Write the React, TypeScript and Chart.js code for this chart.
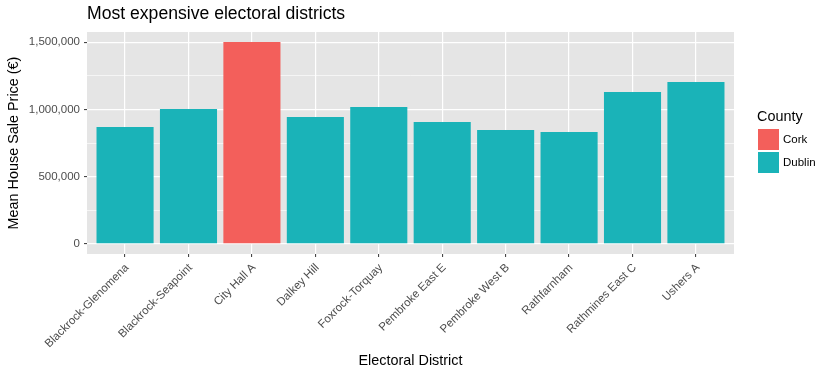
import React, { useEffect, useRef } from "react";
import { Chart, registerables } from "chart.js";

Chart.register(...registerables);

const districts = [
  "Blackrock-Glenomena",
  "Blackrock-Seapoint",
  "City Hall A",
  "Dalkey Hill",
  "Foxrock-Torquay",
  "Pembroke East E",
  "Pembroke West B",
  "Rathfarnham",
  "Rathmines East C",
  "Ushers A",
];
const districtCounty = ["Dublin", "Dublin", "Cork", "Dublin", "Dublin", "Dublin", "Dublin", "Dublin", "Dublin", "Dublin"];
const meanPrices = [869000, 1002000, 1500000, 943000, 1017000, 906000, 847000, 832000, 1129000, 1203000];
const counties = ["Cork", "Dublin"];
const countyColors = ["#F35F5B", "#1AB3B8"];
const yMajorTicks = [0, 500000, 1000000, 1500000];
const yMinorTicks = [250000, 750000, 1250000];

const FONT = "'Liberation Sans', Arial, Helvetica, sans-serif";

const panelBg = {
  id: "panelBg",
  beforeDraw(chart: any) {
    const { ctx, chartArea } = chart;
    ctx.save();
    ctx.fillStyle = "#E5E5E5";
    ctx.fillRect(chartArea.left, chartArea.top, chartArea.right - chartArea.left, chartArea.bottom - chartArea.top);
    ctx.restore();
  },
};

const ggLegend = {
  id: "ggLegend",
  afterDraw(chart: any) {
    const { ctx, chartArea } = chart;
    const x0 = chartArea.right + 24;
    const yTitle = 117;
    ctx.save();
    ctx.fillStyle = "#000000";
    ctx.font = `14.4px ${FONT}`;
    ctx.textAlign = "left";
    ctx.textBaseline = "middle";
    ctx.fillText("County", x0 - 1, yTitle);
    const key = 21;
    const gap = 2;
    let y = 129;
    chart.data.datasets.forEach((ds: any) => {
      ctx.fillStyle = ds.backgroundColor;
      ctx.fillRect(x0, y, key, key);
      ctx.fillStyle = "#000000";
      ctx.font = `11.5px ${FONT}`;
      ctx.fillText(ds.label, x0 + key + 4, y + key / 2 + 0.5);
      y += key + gap;
    });
    ctx.restore();
  },
};

export default function App() {
  const ref = useRef<HTMLCanvasElement | null>(null);

  useEffect(() => {
    document.body.style.margin = "0";
    if (!ref.current) return;
    const datasets = counties.map((c, ci) => ({
      label: c,
      data: districts
        .map((_, i) => (districtCounty[i] === c ? { x: i + 1, y: meanPrices[i] } : null))
        .filter((p) => p !== null) as any,
      backgroundColor: countyColors[ci],
      borderWidth: 0,
      grouped: false,
      barPercentage: 0.9,
      categoryPercentage: 1,
    }));
    const allY = [...yMajorTicks, ...yMinorTicks].sort((a, b) => a - b);
    const chart = new Chart(ref.current, {
      type: "bar",
      data: { datasets },
      plugins: [panelBg, ggLegend],
      options: {
        animation: false,
        responsive: false,
        layout: { padding: { left: 0, right: 97, top: 0, bottom: 0 } },
        plugins: {
          legend: { display: false },
          tooltip: { enabled: false },
          title: {
            display: true,
            text: "Most expensive electoral districts",
            align: "start",
            fullSize: false,
            color: "#000000",
            font: { family: FONT, size: 17.6, weight: "normal" },
            padding: { top: 3.6, bottom: 7.3 },
          },
        },
        scales: {
          x: {
            type: "linear",
            min: 0.4,
            max: 10.6,
            offset: false,
            afterBuildTicks: (scale: any) => {
              scale.ticks = districts.map((_, i) => ({ value: i + 1 }));
            },
            afterFit: (scale: any) => {
              scale.height = 120;
            },
            grid: {
              offset: false,
              color: "#FFFFFF",
              lineWidth: 1.2,
              tickColor: "#333333",
              tickLength: 3,
              tickWidth: 1,
            },
            border: { display: false },
            ticks: {
              autoSkip: false,
              minRotation: 45,
              maxRotation: 45,
              padding: 4,
              labelOffset: 2,
              color: "#4D4D4D",
              font: { family: FONT, size: 11.5 },
              callback: (v: any) => districts[Math.round(Number(v)) - 1] ?? "",
            },
            title: {
              display: true,
              text: "Electoral District",
              color: "#000000",
              font: { family: FONT, size: 14.4 },
              padding: { top: 0, bottom: 4.4 },
            },
          },
          y: {
            type: "linear",
            min: -75000,
            max: 1575000,
            afterBuildTicks: (scale: any) => {
              scale.ticks = allY.map((v) => ({ value: v }));
            },
            afterFit: (scale: any) => {
              scale.width = 87;
            },
            grid: {
              color: "#FFFFFF",
              lineWidth: (c: any) => (yMajorTicks.includes(c.tick?.value) ? 1.2 : 0.6),
              tickColor: (c: any) => (yMajorTicks.includes(c.tick?.value) ? "#333333" : "rgba(0,0,0,0)"),
              tickLength: 3,
              tickWidth: 1,
            },
            border: { display: false },
            ticks: {
              autoSkip: false,
              padding: 4,
              color: "#4D4D4D",
              font: { family: FONT, size: 11.5 },
              callback: (v: any) => (yMajorTicks.includes(Number(v)) ? Number(v).toLocaleString("en-US") : ""),
            },
            title: {
              display: true,
              text: "Mean House Sale Price (€)",
              color: "#000000",
              font: { family: FONT, size: 14.4 },
              padding: { top: 5.8, bottom: 0 },
            },
          },
        },
      } as any,
    });
    return () => chart.destroy();
  }, []);

  return (
    <div style={{ width: 831, height: 374 }}>
      <canvas ref={ref} width={831} height={374} />
    </div>
  );
}
